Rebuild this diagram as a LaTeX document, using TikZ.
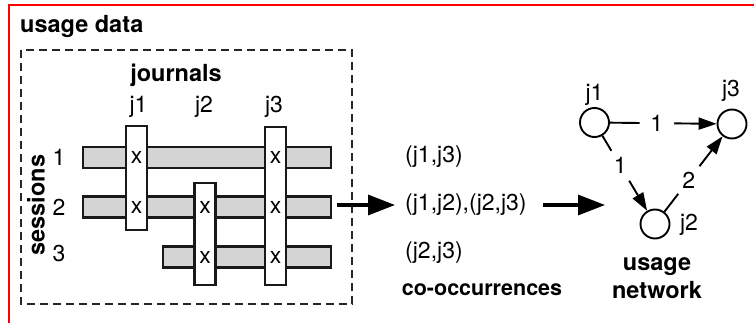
\documentclass[tikz,border=0pt]{standalone}
\usepackage{fontspec}
\setmainfont{TeX Gyre Heros}
\usetikzlibrary{arrows.meta}
\tikzset{
  head/.style={font=\bfseries\fontsize{23.5}{27}\selectfont, inner sep=0pt},
  txt/.style={font=\fontsize{23}{26}\selectfont, inner sep=0pt},
  sessbar/.style={draw=black!90, line width=2.3pt, fill=black!17, minimum height=21pt, inner sep=0pt},
  jrnbar/.style={draw=black!90, line width=2.3pt, fill=white, minimum width=21pt, inner sep=0pt},
  jnode/.style={circle, draw, line width=1.9pt, minimum size=29pt, inner sep=0pt},
  wlbl/.style={circle, fill=white, inner sep=5pt, font=\fontsize{23}{26}\selectfont},
  bigarrow/.style={line width=3.2pt, -{Triangle[length=27pt,width=20pt]}},
  netarrow/.style={line width=1.9pt, -{Triangle[length=18pt,width=12pt]}},
}
\begin{document}
\begin{tikzpicture}[x=1pt,y=-1pt]
  \useasboundingbox (0,0) rectangle (754,323);
  \draw[red, line width=1.8pt] (9,340) -- (9,5) -- (770,5);
  \node[head, anchor=west] (title) at (20,26) {usage data};

  % usage data: sessions x journals
  \draw[black!85, line width=2.4pt, dash pattern=on 8pt off 5pt] (21,50) rectangle (352,304);
  \node[head] (jrn) at (176,75.5) {journals};
  \node[txt] (lj1) at (138.5,107) {j1};
  \node[txt] (lj2) at (204,107) {j2};
  \node[txt] (lj3) at (274,107) {j3};
  \node[head, rotate=90] (sess) at (36,205) {sessions};
  \node[txt] (ls1) at (59,157) {1};
  \node[txt] (ls2) at (59,207) {2};
  \node[txt] (ls3) at (59,254) {3};

  \node[sessbar, minimum width=248pt] (s1) at (207,157.5) {};
  \node[sessbar, minimum width=248pt] (s2) at (207,207) {};
  \node[sessbar, minimum width=168pt] (s3) at (247,257) {};
  \node[jrnbar, minimum height=104pt] (b1) at (136.5,178) {};
  \node[jrnbar, minimum height=102pt] (b2) at (205,234) {};
  \node[jrnbar, minimum height=158pt] (b3) at (275.5,206) {};
  \foreach \b/\s in {b1/s1,b1/s2,b2/s2,b2/s3,b3/s1,b3/s2,b3/s3}
    \node[txt] (x-\b-\s) at (\b |- \s) {x};

  % co-occurrences
  \node[txt, anchor=west] (co1) at (405,157) {(j1,j3)};
  \node[txt, anchor=west] (co2) at (405,205) {(j1,j2),(j2,j3)};
  \node[txt, anchor=west] (co3) at (405,253) {(j2,j3)};
  \node[head, font=\bfseries\fontsize{21.5}{24}\selectfont] (cooc) at (482,290) {co-occurrences};
  \coordinate (a0) at (337,205);
  \coordinate (a1) at (605,205);
  \draw[bigarrow, shorten >=10pt] (a0) -- (a0 -| co2.west);
  \draw[bigarrow, shorten <=16pt] (co2.east) -- (a1);

  % usage network
  \node[jnode] (v1) at (594.5,122.5) {};
  \node[jnode] (v2) at (655,224) {};
  \node[jnode] (v3) at (732,124) {};
  \node[txt] (t1) at (594.5,95) {j1};
  \node[txt] (t2) at (689,225) {j2};
  \node[txt] (t3) at (731,91) {j3};
  \draw[netarrow] (v1) -- node[wlbl, pos=0.44] (e13) {1} (v3);
  \draw[netarrow] (v1) -- node[wlbl, pos=0.40] (e12) {1} (v2);
  \draw[netarrow] (v2) -- node[wlbl, pos=0.42] (e23) {2} (v3);
  \node[head] (u1) at (657,267) {usage};
  \node[head] (u2) at (657,290) {network};
\end{tikzpicture}
\end{document}
